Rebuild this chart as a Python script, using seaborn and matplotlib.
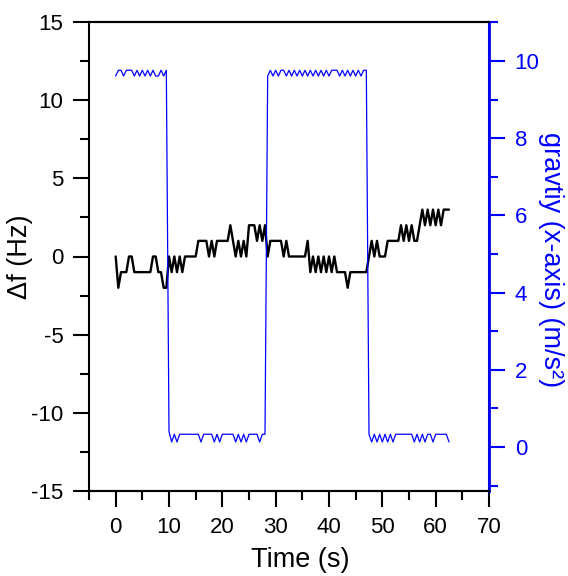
import numpy as np
import pandas as pd
import matplotlib
matplotlib.use("Agg")
import matplotlib.pyplot as plt
from matplotlib.ticker import MultipleLocator
import seaborn as sns

# ---- data (sampled every 0.5 s) ----
time = np.arange(0, 63, 0.5)

delta_f = [0, -2, -1, -1, -1, 0, 0, -1, -1, -1,
           -1, -1, -1, -1, 0, 0, -1, -1, -2, -2,
           0, -1, 0, -1, 0, -1, 0, 0, 0, 0,
           0, 1, 1, 1, 1, 0, 1, 0, 1, 1,
           1, 1, 1, 2, 1, 0, 1, 0, 1, 0,
           2, 2, 2, 1, 2, 1, 2, 0, 1, 1,
           1, 1, 1, 0, 1, 0, 0, 0, 0, 0,
           0, 0, 1, -1, 0, -1, 0, -1, 0, -1,
           0, -1, 0, -1, -1, -1, -1, -2, -1, -1,
           -1, -1, -1, -1, -1, 0, 1, 0, 1, 0,
           0, 0, 1, 1, 1, 1, 1, 2, 1, 2,
           1, 2, 1, 1, 2, 3, 2, 3, 2, 3,
           2, 3, 2, 3, 3, 3]

gravity = [9.61, 9.76, 9.76, 9.61, 9.76, 9.76, 9.76, 9.61, 9.76, 9.61,
           9.76, 9.61, 9.76, 9.61, 9.76, 9.61, 9.61, 9.76, 9.61, 9.76,
           0.40, 0.13, 0.33, 0.13, 0.33, 0.33, 0.33, 0.33, 0.33, 0.33,
           0.33, 0.33, 0.13, 0.33, 0.33, 0.33, 0.33, 0.13, 0.33, 0.13,
           0.33, 0.33, 0.33, 0.33, 0.33, 0.13, 0.33, 0.13, 0.33, 0.13,
           0.33, 0.33, 0.33, 0.33, 0.13, 0.33, 0.33, 9.61, 9.76, 9.61,
           9.76, 9.61, 9.76, 9.76, 9.61, 9.76, 9.61, 9.76, 9.61, 9.76,
           9.61, 9.76, 9.61, 9.76, 9.61, 9.76, 9.61, 9.76, 9.61, 9.76,
           9.61, 9.76, 9.76, 9.76, 9.61, 9.76, 9.61, 9.76, 9.61, 9.76,
           9.61, 9.76, 9.61, 9.76, 9.76, 0.33, 0.13, 0.33, 0.13, 0.33,
           0.13, 0.33, 0.13, 0.33, 0.13, 0.33, 0.33, 0.33, 0.33, 0.33,
           0.33, 0.33, 0.13, 0.33, 0.13, 0.33, 0.13, 0.33, 0.33, 0.13,
           0.33, 0.33, 0.33, 0.33, 0.33, 0.13]

df = pd.DataFrame({"time": time, "delta_f": delta_f, "gravity": gravity})

# ---- style ----
sns.set_theme(style="ticks")
plt.rcParams['font.family'] = ['Liberation Sans', 'DejaVu Sans']
plt.rcParams['axes.unicode_minus'] = False
plt.rcParams['axes.labelcolor'] = 'black'
plt.rcParams['text.color'] = 'black'
BLUE = "#0000ff"

fig = plt.figure(figsize=(5.68, 5.76), dpi=100)
ax = fig.add_axes([89 / 568, 1 - 491 / 576, 400 / 568, 469 / 576])

sns.lineplot(data=df, x="time", y="delta_f", ax=ax, color="black", lw=1.7)
ax2 = ax.twinx()
sns.lineplot(data=df, x="time", y="gravity", ax=ax2, color=BLUE, lw=0.9)

ax.set_xlim(-5, 70)
ax.set_ylim(-15, 15)
ax2.set_ylim(-1.14, 11.01)

ax.xaxis.set_major_locator(MultipleLocator(10))
ax.xaxis.set_minor_locator(MultipleLocator(5))
ax.yaxis.set_major_locator(MultipleLocator(5))
ax.yaxis.set_minor_locator(MultipleLocator(2.5))
ax2.yaxis.set_major_locator(MultipleLocator(2))
ax2.yaxis.set_minor_locator(MultipleLocator(1))
ax.set_xticks([0, 10, 20, 30, 40, 50, 60, 70])

for a in (ax, ax2):
    for s in a.spines.values():
        s.set_linewidth(1.5)
        s.set_color("black")

ax.tick_params(axis="both", which="major", direction="out", length=11.5, width=1.5,
               labelsize=16, pad=7, colors="black", top=False, right=False)
ax.tick_params(axis="both", which="minor", direction="out", length=6.5, width=1.5,
               top=False, right=False, colors="black")
ax2.spines["right"].set_color(BLUE)
ax2.spines["right"].set_linewidth(2)
ax2.spines["left"].set_visible(False)
ax2.tick_params(axis="y", which="major", direction="out", length=11.5, width=1.5,
                labelsize=16, pad=7, colors=BLUE)
ax2.tick_params(axis="y", which="minor", direction="out", length=6.5, width=1.5,
                colors=BLUE)

ax.set_xlabel("Time (s)", fontsize=19.5, va="center", color="black")
ax.xaxis.set_label_coords(0.5275, -0.147)
ax.set_ylabel("\u0394f (Hz)", fontsize=19.5, va="center", color="black")
ax.yaxis.set_label_coords(-0.1725, 0.5)
ax2.set_ylabel("gravtiy (x-axis) (m/s\u00b2)", fontsize=19.5, color=BLUE,
               rotation=270, va="center")
ax2.yaxis.set_label_coords(1.155, 0.4925)

fig.savefig("out.png", dpi=100)
